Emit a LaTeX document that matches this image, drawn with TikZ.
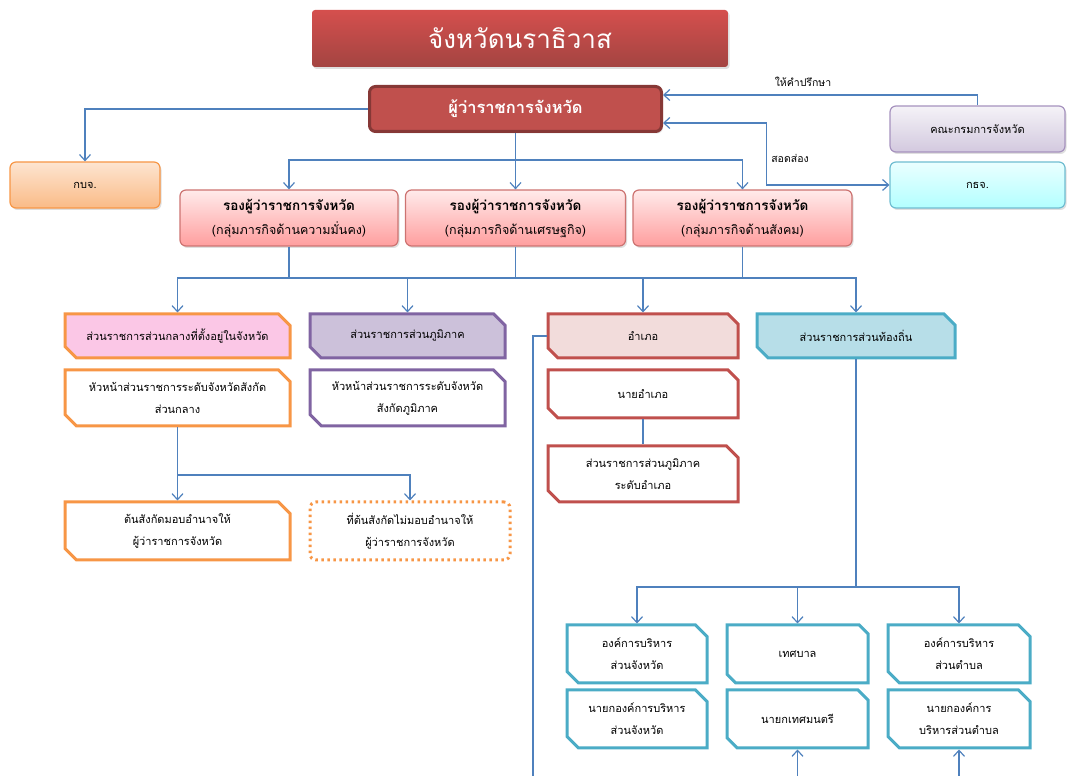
\documentclass[tikz,border=0pt]{standalone}
\usepackage{fontspec}
\setmainfont[Script=Thai]{Loma}
\usetikzlibrary{arrows.meta,shapes.misc,shadows,calc}
\definecolor{linkblue}{HTML}{4F81BD}
\definecolor{orgorange}{HTML}{F79646}
\definecolor{orgpurple}{HTML}{8064A2}
\definecolor{orgred}{HTML}{C0504D}
\definecolor{orgteal}{HTML}{4BACC6}
\begin{document}
\begin{tikzpicture}[
    font=\fontsize{11bp}{22bp}\selectfont,
    line/.style={draw=linkblue,line width=1.2bp},
    conn/.style={line,-{Straight Barb[length=6bp,width=11bp]}},
    twoway/.style={line,{Straight Barb[length=6bp,width=11bp]}-{Straight Barb[length=6bp,width=11bp]}},
    softbox/.style={rounded corners=6bp,line width=1.2bp,align=center,
      drop shadow={opacity=0.25,shadow xshift=1.5bp,shadow yshift=-2bp}},
    snipbox/.style={chamfered rectangle,chamfered rectangle corners={north east,south west},
      chamfered rectangle xsep=8bp,line width=3bp,align=center,inner sep=2bp,fill=white},
    deputy/.style={softbox,draw=orgred!80,top color=red!8,bottom color=red!38,
      minimum width=218bp,minimum height=56bp,font=\fontsize{13.5bp}{24bp}\selectfont},
    lbl/.style={font=\fontsize{10.5bp}{12bp}\selectfont}
  ]
  \useasboundingbox (0bp,0bp) rectangle (1067bp,776bp);
  % top level
  \node (title) at (520bp,737.5bp) [softbox,rounded corners=3bp,top color=orgred!75!red!90,bottom color=orgred!85!black,
    minimum width=416bp,minimum height=57bp,text=white,font=\fontsize{26bp}{28bp}\selectfont] {จังหวัดนราธิวาส};
  \node (gov) at (515.5bp,667bp) [softbox,draw=orgred!70!black,line width=3bp,fill=orgred,
    minimum width=292bp,minimum height=45bp,text=white,font=\fontsize{16.5bp}{18bp}\selectfont\bfseries] {ผู้ว่าราชการจังหวัด};
  \node (kkj) at (977.5bp,647bp) [softbox,draw=orgpurple!70,top color=orgpurple!8,bottom color=orgpurple!35,
    minimum width=175bp,minimum height=46bp] {คณะกรมการจังหวัด};
  \node (kdj) at (977.5bp,591bp) [softbox,draw=orgteal!80,top color=cyan!8,bottom color=cyan!30,
    minimum width=175bp,minimum height=46bp] {กธจ.};
  \node (kbj) at (85bp,591bp) [softbox,draw=orgorange,top color=orgorange!25,bottom color=orgorange!65,
    minimum width=150bp,minimum height=46bp] {กบจ.};
  \node (d1) at (289bp,558bp) [deputy] {\textbf{รองผู้ว่าราชการจังหวัด}\\{\fontsize{12.5bp}{14bp}\selectfont(กลุ่มภารกิจด้านความมั่นคง)}};
  \node (d2) at (515.5bp,558bp) [deputy,minimum width=220bp] {\textbf{รองผู้ว่าราชการจังหวัด}\\{\fontsize{12.5bp}{14bp}\selectfont(กลุ่มภารกิจด้านเศรษฐกิจ)}};
  \node (d3) at (742.5bp,558bp) [deputy,minimum width=219bp] {\textbf{รองผู้ว่าราชการจังหวัด}\\{\fontsize{12.5bp}{14bp}\selectfont(กลุ่มภารกิจด้านสังคม)}};
  % branches
  \node (central) at (177.5bp,440bp) [snipbox,draw=orgorange,fill=magenta!22,minimum width=225bp,minimum height=44bp] {ส่วนราชการส่วนกลางที่ตั้งอยู่ในจังหวัด};
  \node (region) at (407.5bp,440bp) [snipbox,draw=orgpurple,fill=orgpurple!40,minimum width=195bp,minimum height=44bp] {ส่วนราชการส่วนภูมิภาค};
  \node (amphoe) at (643bp,440bp) [snipbox,draw=orgred,fill=orgred!20,minimum width=190bp,minimum height=44bp] {อำเภอ};
  \node (local) at (856bp,440bp) [snipbox,draw=orgteal,fill=orgteal!40,minimum width=198bp,minimum height=44bp] {ส่วนราชการส่วนท้องถิ่น};
  \node (chead) at (177.5bp,378bp) [snipbox,draw=orgorange,minimum width=225bp,minimum height=56bp] {หัวหน้าส่วนราชการระดับจังหวัดสังกัด\\ส่วนกลาง};
  \node (rhead) at (407.5bp,378bp) [snipbox,draw=orgpurple,minimum width=195bp,minimum height=56bp] {หัวหน้าส่วนราชการระดับจังหวัด\\สังกัดภูมิภาค};
  \node (nai) at (643bp,382bp) [snipbox,draw=orgred,minimum width=190bp,minimum height=48bp] {นายอำเภอ};
  \node (rdamphoe) at (643bp,302bp) [snipbox,draw=orgred,minimum width=190bp,minimum height=56bp] {ส่วนราชการส่วนภูมิภาค\\ระดับอำเภอ};
  \node (auth1) at (177.5bp,245bp) [snipbox,draw=orgorange,minimum width=225bp,minimum height=58bp] {ต้นสังกัดมอบอำนาจให้\\ผู้ว่าราชการจังหวัด};
  \node (auth2) at (410bp,245bp) [draw=orgorange,line width=3bp,dash pattern=on 2.5bp off 3.5bp,rounded corners=6bp,
    align=center,minimum width=200bp,minimum height=58bp] {ที่ต้นสังกัดไม่มอบอำนาจให้\\ผู้ว่าราชการจังหวัด};
  % local government
  \node (l1) at (637bp,122bp) [snipbox,draw=orgteal,minimum width=140bp,minimum height=58bp] {องค์การบริหาร\\ส่วนจังหวัด};
  \node (l2) at (797.5bp,122bp) [snipbox,draw=orgteal,minimum width=141bp,minimum height=58bp] {เทศบาล};
  \node (l3) at (959bp,122bp) [snipbox,draw=orgteal,minimum width=142bp,minimum height=58bp] {องค์การบริหาร\\ส่วนตำบล};
  \node (n1) at (637bp,57bp) [snipbox,draw=orgteal,minimum width=140bp,minimum height=58bp] {นายกองค์การบริหาร\\ส่วนจังหวัด};
  \node (n2) at (797.5bp,57bp) [snipbox,draw=orgteal,minimum width=141bp,minimum height=58bp] {นายกเทศมนตรี};
  \node (n3) at (959bp,57bp) [snipbox,draw=orgteal,minimum width=142bp,minimum height=58bp] {นายกองค์การ\\บริหารส่วนตำบล};
  % junctions
  \coordinate (busA) at (515.5bp,616bp);
  \coordinate (busB) at (515.5bp,498bp);
  \coordinate (busC) at (177.5bp,301bp);
  \coordinate (busD) at (856bp,189bp);
  \coordinate (leftEnd) at (533bp,0bp);
  \coordinate (up2) at (797.5bp,0bp);
  \coordinate (up3) at (959bp,0bp);
  % connectors
  \draw [conn] (kkj.north) |- ($(gov.north east)+(0,-10bp)$);
  \draw (803bp,694bp) node [lbl] {ให้คำปรึกษา};
  \draw [twoway] ($(gov.south east)+(0,10bp)$) -| ($(kdj.west)+(-123bp,0)$) -- (kdj.west);
  \draw (790bp,618bp) node [lbl] {สอดส่อง};
  \draw [conn] (gov.west) -| (kbj.north);
  \draw [line] (gov.south) -- (busA);
  \draw [conn] (busA) -| (d1.north);
  \draw [conn] (busA) -- (d2.north);
  \draw [conn] (busA) -| (d3.north);
  \draw [line] (d1.south) |- (busB);
  \draw [line] (d2.south) -- (busB);
  \draw [line] (d3.south) |- (busB);
  \draw [conn] (busB) -| (central.north);
  \draw [conn] (busB) -| (region.north);
  \draw [conn] (busB) -| (amphoe.north);
  \draw [conn] (busB) -| (local.north);
  \draw [line] (chead.south) -- (busC);
  \draw [conn] (busC) -- (auth1.north);
  \draw [conn] (busC) -| (auth2.north);
  \draw [line] (nai.south) -- (rdamphoe.north);
  \draw [line] (amphoe.west) -| (leftEnd);
  \draw [line] (local.south) -- (busD);
  \draw [conn] (busD) -| (l1.north);
  \draw [conn] (busD) -| (l2.north);
  \draw [conn] (busD) -| (l3.north);
  \draw [conn] (up2) -- (n2.south);
  \draw [conn] (up3) -- (n3.south);
\end{tikzpicture}
\end{document}
